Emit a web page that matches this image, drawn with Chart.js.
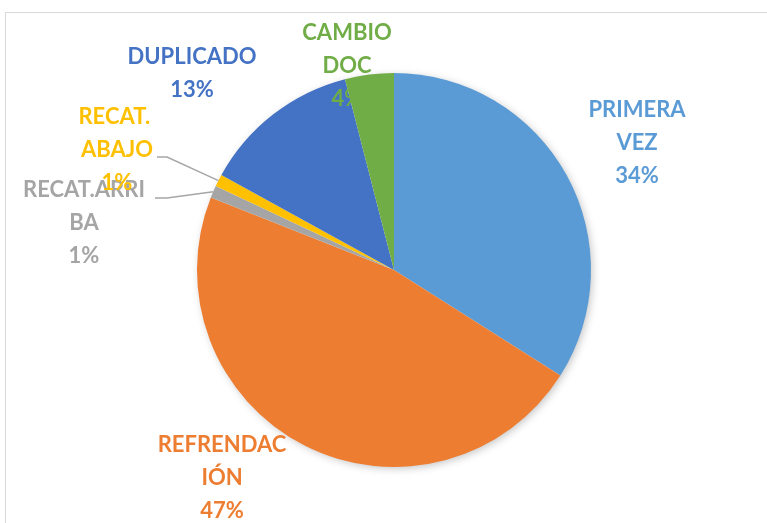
<!DOCTYPE html>
<html>
<head>
<meta charset="utf-8">
<script src="https://cdn.jsdelivr.net/npm/chart.js@4"></script>
<style>
  html, body { margin: 0; padding: 0; background: #fff; }
  #wrap { position: relative; width: 767px; height: 523px; }
  #frame { position: absolute; left: 5px; top: 12px; right: 0; bottom: 0;
           border-top: 1px solid #d9d9d9; border-left: 1px solid #d9d9d9; }
  canvas { position: absolute; left: 0; top: 0; }
</style>
</head>
<body>
<div id="wrap">
  <div id="frame"></div>
  <canvas id="pie" width="767" height="523"></canvas>
</div>
<script>
// Trámites por tipo (%)
const categories = ['PRIMERA VEZ', 'REFRENDACIÓN', 'RECAT.ARRIBA', 'RECAT. ABAJO', 'DUPLICADO', 'CAMBIO DOC'];
const values = [34, 47, 1, 1, 13, 4];
const colors = ['#5b9bd5', '#ed7d31', '#a5a5a5', '#ffc000', '#4472c4', '#70ad47'];
// how Excel wrapped each label
const labelLines = [
  ['PRIMERA', 'VEZ'],
  ['REFRENDAC', 'IÓN'],
  ['RECAT.ARRI', 'BA'],
  ['RECAT. ', 'ABAJO'],
  ['DUPLICADO'],
  ['CAMBIO', 'DOC']
];

// label placement (centre of first line) and leader lines
const labelPos = [[637, 110], [222, 445], [84, 190], [117, 117], [192, 57], [347, 33]];
const leaders = { 2: [[155, 198], [167, 198]], 3: [[157, 157], [167, 157]] };
const lineGap = 33;

const pieLabels = {
  id: 'pieLabels',
  beforeDatasetsDraw(chart) {
    // soft shadow under the pie
    const ctx = chart.ctx;
    const a0 = chart.getDatasetMeta(0).data[0];
    ctx.save();
    ctx.shadowColor = 'rgba(0,0,0,0.25)';
    ctx.shadowBlur = 8;
    ctx.shadowOffsetX = 2;
    ctx.shadowOffsetY = 2;
    ctx.fillStyle = '#fff';
    ctx.beginPath();
    ctx.arc(a0.x, a0.y, a0.outerRadius - 1, 0, Math.PI * 2);
    ctx.fill();
    ctx.restore();
  },
  afterDatasetsDraw(chart) {
    const ctx = chart.ctx;
    const meta = chart.getDatasetMeta(0);
    const total = values.reduce((a, b) => a + b, 0);
    ctx.save();
    ctx.font = 'bold 22px Lato';
    ctx.textAlign = 'center';
    ctx.textBaseline = 'middle';
    values.forEach((v, i) => {
      const [x, y] = labelPos[i];
      const lines = labelLines[i].concat([Math.round(v / total * 100) + '%']);
      ctx.fillStyle = colors[i];
      lines.forEach((t, k) => ctx.fillText(t, x, y + k * lineGap));
      if (leaders[i]) {
        // end of leader on the slice edge, at its mid angle
        const arc = meta.data[i];
        const mid = (arc.startAngle + arc.endAngle) / 2;
        const ex = arc.x + Math.cos(mid) * arc.outerRadius;
        const ey = arc.y + Math.sin(mid) * arc.outerRadius;
        ctx.strokeStyle = '#a6a6a6';
        ctx.lineWidth = 1.5;
        ctx.beginPath();
        ctx.moveTo(leaders[i][0][0], leaders[i][0][1]);
        ctx.lineTo(leaders[i][1][0], leaders[i][1][1]);
        ctx.lineTo(ex, ey);
        ctx.stroke();
      }
    });
    ctx.restore();
  }
};

new Chart(document.getElementById('pie').getContext('2d'), {
  type: 'pie',
  data: {
    labels: categories,
    datasets: [{
      data: values,
      backgroundColor: colors,
      borderWidth: 0
    }]
  },
  options: {
    responsive: false,
    animation: false,
    layout: { padding: { top: 73, bottom: 56, left: 100, right: 79 } },
    plugins: {
      legend: { display: false },
      tooltip: { enabled: false }
    }
  },
  plugins: [pieLabels]
});
</script>
</body>
</html>
